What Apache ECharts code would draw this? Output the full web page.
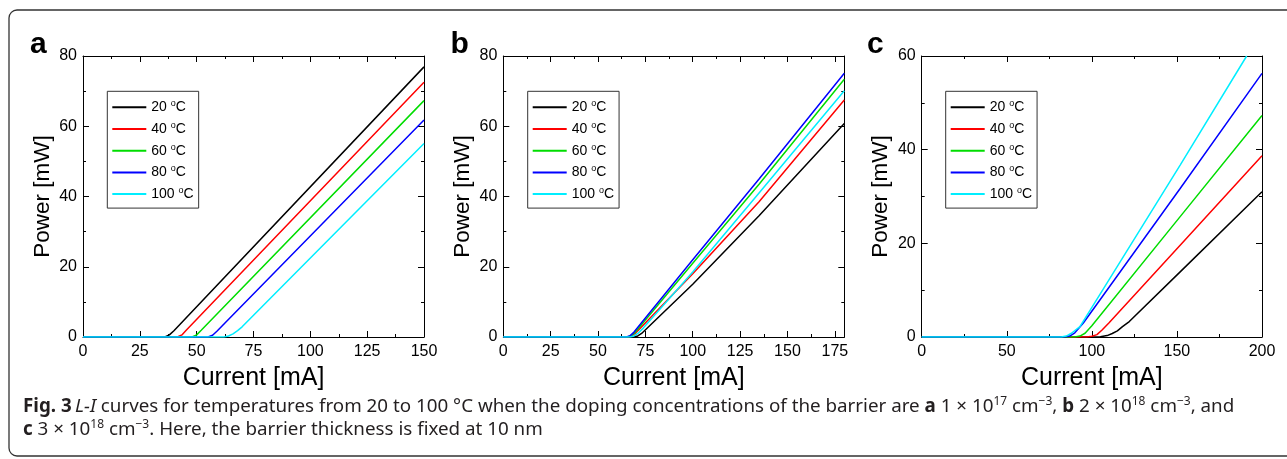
<!DOCTYPE html>
<html><head><meta charset="utf-8">
<script src="https://cdn.jsdelivr.net/npm/echarts@6/dist/echarts.min.js"></script>
<style>html,body{margin:0;padding:0;background:#fff}#c{width:1287px;height:459px}</style>
</head><body><div id="c"></div>
<script>
const temps = ['20 °C', '40 °C', '60 °C', '80 °C', '100 °C'];
const colors = ['#000000', '#ff0000', '#00dd00', '#0000ff', '#00eeff'];
const panelLetters = ['a', 'b', 'c'];

// Panel a: [current mA, power mW]
const a20 = [[0,0],[36,0],[38,0.6],[40,1.8],[150,76.9]];
const a40 = [[0,0],[41.5,0],[43.5,0.6],[45.5,2.0],[150,72.5]];
const a60 = [[0,0],[48,0],[50,0.6],[52,1.9],[150,67.3]];
const a80 = [[0,0],[55,0],[57,0.5],[59,1.7],[150,61.8]];
const a100 = [[0,0],[62,0],[64,0.3],[66,0.9],[68,1.8],[70,2.9],[150,55.1]];

// Panel b
const b20 = [[0,0],[69,0],[71,0.3],[73,1.0],[100,15],[135,34.5],[180,60.8]];
const b40 = [[0,0],[66,0],[68,0.4],[70,1.2],[100,18],[135,38.5],[180,67.5]];
const b60 = [[0,0],[65.5,0],[67.5,0.4],[69.5,1.3],[100,21],[135,43.5],[180,73.4]];
const b80 = [[0,0],[65,0],[67,0.4],[69,1.4],[100,22],[135,45],[180,75.1]];
const b100 = [[0,0],[67,0],[69,0.3],[71,1.0],[74,2.6],[100,18.5],[135,41],[180,70.1]];

// Panel c
const c20 = [[0,0],[100,0],[105,0.05],[109,0.3],[112,0.75],[115,1.3],[118,2.2],[122,3.3],[151.9,13.9],[200,31.0]];
const c40 = [[0,0],[97,0],[100,0.15],[103,0.5],[106,1.5],[110,3.0],[151.9,19.6],[200,38.7]];
const c60 = [[0,0],[90,0],[93,0.2],[96,0.8],[100,2.4],[151.9,25.7],[200,47.3]];
const c80 = [[0,0],[84,0],[87,0.2],[90,0.9],[95,3.0],[151.9,31.7],[200,56.3]];
const c100 = [[0,0],[82,0],[85,0.2],[88,0.8],[93,2.2],[151.9,36.7],[191,60]];

const panelSeries = [[a20,a40,a60,a80,a100],[b20,b40,b60,b80,b100],[c20,c40,c60,c80,c100]];
const xMax = [150, 180, 200];
const xInterval = [25, 25, 50];
const xLabelMax = [150, 175, 200];
const yMax = [80, 80, 60];
const yInterval = [20, 20, 20];

const grids = [
  {left: 83, top: 56, width: 341, height: 281},
  {left: 503.3, top: 56, width: 341, height: 281},
  {left: 921.7, top: 56, width: 340.3, height: 281}
];
const legendLeft = [107.3, 527.7, 945.7];

const FONT = 'Liberation Sans, Arial, sans-serif';
const black = '#000';

function axisCommon(extra) {
  return Object.assign({
    type: 'value',
    axisLine: {show: true, onZero: false, lineStyle: {color: black, width: 1}},
    axisTick: {show: true, inside: true, length: 6, lineStyle: {color: black, width: 1}},
    minorTick: {show: true, splitNumber: 2, length: 3, lineStyle: {color: black, width: 1}},
    splitLine: {show: false},
    minorSplitLine: {show: false}
  }, extra);
}

const xAxes = [], yAxes = [], series = [], legends = [], graphics = [];
for (let i = 0; i < 3; i++) {
  const lm = xLabelMax[i];
  xAxes.push(axisCommon({
    gridIndex: i, position: 'bottom', min: 0, max: xMax[i], interval: xInterval[i],
    axisLabel: {fontSize: 16, color: black, margin: 7, fontFamily: FONT,
      formatter: v => (v > lm ? '' : String(v))},
    name: 'Current [mA]', nameLocation: 'middle', nameGap: 28.5,
    nameTextStyle: {fontSize: 25, color: black, fontFamily: FONT}
  }));
  xAxes.push(axisCommon({
    gridIndex: i, position: 'top', min: 0, max: xMax[i], interval: xInterval[i],
    axisLabel: {show: false}
  }));
  yAxes.push(axisCommon({
    gridIndex: i, position: 'left', min: 0, max: yMax[i], interval: yInterval[i],
    axisLabel: {fontSize: 16, color: black, margin: 6, fontFamily: FONT},
    name: 'Power [mW]', nameLocation: 'middle', nameGap: 29,
    nameTextStyle: {fontSize: 22.5, color: black, fontFamily: FONT}
  }));
  yAxes.push(axisCommon({
    gridIndex: i, position: 'right', min: 0, max: yMax[i], interval: yInterval[i],
    axisLabel: {show: false}
  }));
  for (let k = 0; k < 5; k++) {
    series.push({
      type: 'line', name: temps[k], xAxisIndex: i * 2, yAxisIndex: i * 2,
      data: panelSeries[i][k], symbol: 'none', showSymbol: false,
      lineStyle: {color: colors[k], width: 1.5}, itemStyle: {color: colors[k]},
      z: 2 + k, silent: true
    });
  }
  legends.push({
    orient: 'vertical', left: legendLeft[i], top: 91.3, data: temps,
    icon: 'rect', itemWidth: 34, itemHeight: 2, itemGap: 5.7, padding: [8, 5, 6, 5],
    borderColor: '#333', borderWidth: 1, backgroundColor: '#fff',
    selectedMode: false,
    formatter: n => n.replace(' °C', ' {sup|o}C'),
    textStyle: {fontSize: 14, color: black, fontFamily: FONT, lineHeight: 16,
      rich: {sup: {fontSize: 9, verticalAlign: 'top', lineHeight: 4, color: black, fontFamily: FONT}}}
  });
}

const letterX = [30, 450.5, 867];
for (let i = 0; i < 3; i++) {
  graphics.push({type: 'text', x: letterX[i], y: 44.5,
    style: {text: panelLetters[i], font: 'bold 30px ' + FONT, fill: '#000', verticalAlign: 'middle', align: 'left'}});
}
graphics.push({type: 'rect', shape: {x: 9, y: 10, width: 1600, height: 446, r: 8},
  style: {fill: 'none', stroke: '#333', lineWidth: 1.3}, silent: true});

const CF = 18.8;
const capRich = {
  b: {fontWeight: 'bold', fontSize: CF, fontFamily: 'Noto Sans', fill: '#231f20', lineHeight: 22},
  i: {fontStyle: 'italic', fontSize: CF, fontFamily: 'Noto Sans', fill: '#231f20', lineHeight: 22},
  n: {fontSize: CF, fontFamily: 'Noto Sans', fill: '#231f20', lineHeight: 22},
  s: {fontSize: 12, fontFamily: 'Noto Sans', fill: '#231f20', verticalAlign: 'top', lineHeight: 11}
};
graphics.push({type: 'text', x: 23, y: 407, style: {
  text: '{b|Fig. 3} {i|L-I}{n| curves for temperatures from 20 to 100 °C when the doping concentrations of the barrier are }{b|a}{n| 1 × 10}{s|17}{n| cm}{s|−3}{n|, }{b|b}{n| 2 × 10}{s|18}{n| cm}{s|−3}{n|, and}',
  rich: capRich, verticalAlign: 'middle', align: 'left'}});
graphics.push({type: 'text', x: 23, y: 430, style: {
  text: '{b|c}{n| 3 × 10}{s|18}{n| cm}{s|−3}{n|. Here, the barrier thickness is fixed at 10 nm}',
  rich: capRich, verticalAlign: 'middle', align: 'left'}});

const chart = echarts.init(document.getElementById('c'), null, {renderer: 'canvas'});
chart.setOption({
  animation: false,
  backgroundColor: '#fff',
  grid: grids,
  xAxis: xAxes,
  yAxis: yAxes,
  legend: legends,
  series: series,
  graphic: graphics
});
</script></body></html>
